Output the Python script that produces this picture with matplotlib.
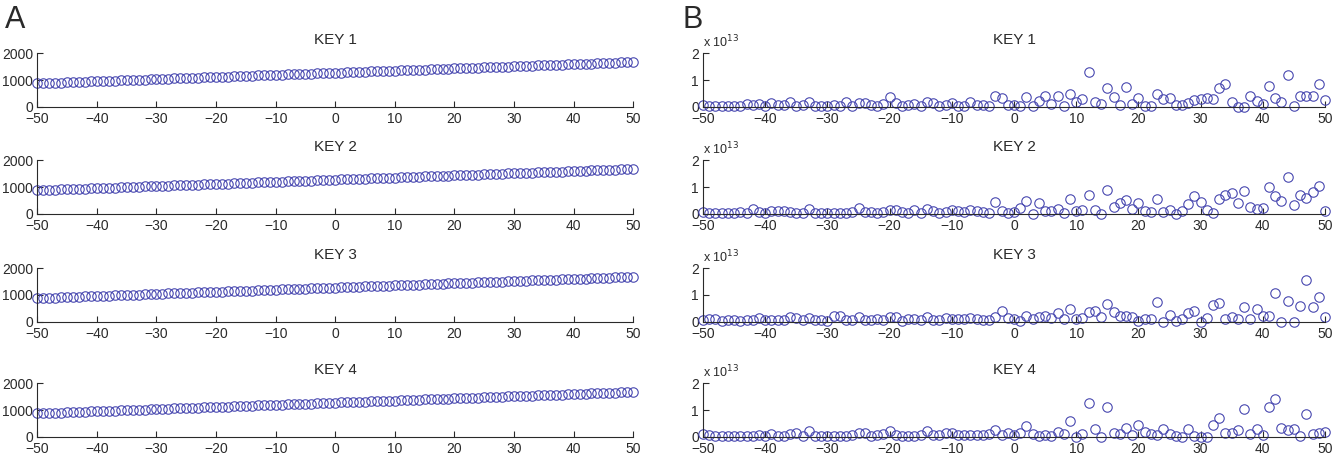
import numpy as np
import matplotlib.pyplot as plt
from matplotlib.ticker import FuncFormatter

plt.rcParams['font.family'] = ['Liberation Sans', 'DejaVu Sans']

# -----------------------------
# data
# -----------------------------
x_vals = list(range(-50, 51))
titles = ["KEY 1", "KEY 2", "KEY 3", "KEY 4"]

# left column (same trend in every panel)
trend_vals = [
    880, 888, 896, 904, 912, 920, 928, 936, 944, 952,
    960, 968, 976, 984, 992, 1000, 1008, 1016, 1024, 1032,
    1040, 1048, 1056, 1064, 1072, 1080, 1088, 1096, 1104, 1112,
    1120, 1128, 1136, 1144, 1152, 1160, 1168, 1176, 1184, 1192,
    1200, 1208, 1216, 1224, 1232, 1240, 1248, 1256, 1264, 1272,
    1280, 1288, 1296, 1304, 1312, 1320, 1328, 1336, 1344, 1352,
    1360, 1368, 1376, 1384, 1392, 1400, 1408, 1416, 1424, 1432,
    1440, 1448, 1456, 1464, 1472, 1480, 1488, 1496, 1504, 1512,
    1520, 1528, 1536, 1544, 1552, 1560, 1568, 1576, 1584, 1592,
    1600, 1608, 1616, 1624, 1632, 1640, 1648, 1656, 1664, 1672,
    1680,
]

# right column, in units of 1e13
key1_vals = [
    0.08, 0.04, 0.03, 0.03, 0.03, 0.04, 0.03, 0.10, 0.06, 0.12,
    0.05, 0.13, 0.07, 0.06, 0.20, 0.05, 0.06, 0.19, 0.04, 0.05,
    0.03, 0.08, 0.04, 0.17, 0.03, 0.14, 0.15, 0.06, 0.04, 0.10,
    0.37, 0.14, 0.03, 0.06, 0.12, 0.04, 0.18, 0.16, 0.04, 0.08,
    0.13, 0.05, 0.04, 0.17, 0.09, 0.08, 0.03, 0.42, 0.34, 0.06,
    0.07, 0.04, 0.37, 0.04, 0.22, 0.40, 0.12, 0.40, 0.05, 0.50,
    0.20, 0.29, 1.31, 0.20, 0.12, 0.70, 0.37, 0.07, 0.75, 0.10,
    0.35, 0.04, 0.04, 0.47, 0.29, 0.35, 0.07, 0.07, 0.16, 0.25,
    0.29, 0.32, 0.31, 0.70, 0.85, 0.20, 0.00, 0.00, 0.40, 0.22,
    0.12, 0.79, 0.32, 0.19, 1.21, 0.04, 0.40, 0.40, 0.40, 0.87,
    0.25,
]
key2_vals = [
    0.06, 0.04, 0.02, 0.02, 0.03, 0.03, 0.06, 0.02, 0.18, 0.08,
    0.03, 0.09, 0.10, 0.12, 0.06, 0.03, 0.04, 0.18, 0.02, 0.04,
    0.05, 0.04, 0.03, 0.04, 0.08, 0.23, 0.08, 0.06, 0.05, 0.08,
    0.15, 0.16, 0.06, 0.03, 0.15, 0.04, 0.19, 0.09, 0.05, 0.07,
    0.13, 0.09, 0.06, 0.14, 0.10, 0.06, 0.05, 0.44, 0.10, 0.04,
    0.06, 0.21, 0.47, 0.00, 0.40, 0.09, 0.12, 0.19, 0.04, 0.56,
    0.12, 0.16, 0.69, 0.15, 0.00, 0.91, 0.25, 0.40, 0.52, 0.19,
    0.41, 0.12, 0.06, 0.54, 0.06, 0.15, 0.00, 0.10, 0.37, 0.65,
    0.46, 0.15, 0.04, 0.56, 0.69, 0.79, 0.40, 0.84, 0.27, 0.19,
    0.21, 1.00, 0.66, 0.47, 1.37, 0.34, 0.69, 0.60, 0.81, 1.04,
    0.12,
]
key3_vals = [
    0.05, 0.12, 0.10, 0.04, 0.08, 0.05, 0.03, 0.05, 0.07, 0.15,
    0.07, 0.06, 0.07, 0.08, 0.19, 0.14, 0.05, 0.15, 0.06, 0.08,
    0.03, 0.21, 0.21, 0.06, 0.05, 0.17, 0.05, 0.06, 0.10, 0.07,
    0.17, 0.19, 0.04, 0.10, 0.10, 0.05, 0.19, 0.05, 0.08, 0.14,
    0.12, 0.10, 0.12, 0.14, 0.10, 0.06, 0.05, 0.18, 0.40, 0.15,
    0.10, 0.04, 0.21, 0.09, 0.19, 0.21, 0.15, 0.34, 0.12, 0.46,
    0.09, 0.15, 0.35, 0.40, 0.19, 0.65, 0.37, 0.22, 0.21, 0.19,
    0.04, 0.12, 0.12, 0.75, 0.00, 0.27, 0.04, 0.12, 0.31, 0.40,
    0.00, 0.15, 0.62, 0.71, 0.09, 0.19, 0.09, 0.54, 0.09, 0.46,
    0.22, 0.22, 1.09, 0.00, 0.79, 0.00, 0.59, 1.56, 0.54, 0.94,
    0.19,
]
key4_vals = [
    0.12, 0.06, 0.02, 0.02, 0.02, 0.03, 0.03, 0.04, 0.05, 0.07,
    0.04, 0.12, 0.05, 0.05, 0.12, 0.14, 0.05, 0.21, 0.04, 0.03,
    0.04, 0.04, 0.04, 0.05, 0.06, 0.15, 0.15, 0.04, 0.06, 0.12,
    0.22, 0.08, 0.04, 0.05, 0.05, 0.07, 0.21, 0.08, 0.06, 0.14,
    0.16, 0.08, 0.07, 0.06, 0.06, 0.08, 0.10, 0.25, 0.06, 0.16,
    0.06, 0.15, 0.40, 0.10, 0.04, 0.06, 0.02, 0.19, 0.12, 0.59,
    0.00, 0.10, 1.27, 0.29, 0.00, 1.11, 0.16, 0.12, 0.34, 0.06,
    0.44, 0.19, 0.12, 0.06, 0.29, 0.09, 0.02, 0.00, 0.29, 0.04,
    0.00, 0.00, 0.44, 0.72, 0.15, 0.16, 0.25, 1.06, 0.12, 0.29,
    0.06, 1.12, 1.40, 0.35, 0.25, 0.31, 0.04, 0.87, 0.10, 0.16,
    0.19,
]
right_series = [key1_vals, key2_vals, key3_vals, key4_vals]

# -----------------------------
# style helpers
# -----------------------------
MARKER_COLOR = '#4848b0'
AX_COLOR = '#2a2a2a'


def style_axes(ax):
    ax.spines['top'].set_visible(False)
    ax.spines['right'].set_visible(False)
    for s in ('left', 'bottom'):
        ax.spines[s].set_linewidth(0.8)
        ax.spines[s].set_color(AX_COLOR)
    ax.tick_params(direction='in', length=4.5, width=0.8, labelsize=10,
                   colors=AX_COLOR)
    ax.tick_params(axis='x', pad=4)
    ax.tick_params(axis='y', pad=3)
    ax.set_xlim(-50, 50)
    ax.set_xticks(range(-50, 51, 10))


fig = plt.figure(figsize=(13.33, 4.57), dpi=100)
bottoms = [0.766, 0.532, 0.296, 0.044]
height = 0.117

for i in range(4):
    # column A
    ax = fig.add_axes([0.028, bottoms[i], 0.447, height])
    ax.plot(x_vals, trend_vals, 'o', mfc='none', mec=MARKER_COLOR,
            ms=6.8, mew=0.8, clip_on=False)
    style_axes(ax)
    ax.set_ylim(0, 2000)
    ax.set_yticks([0, 1000, 2000])
    ax.set_title(titles[i], fontsize=11, pad=7, color=AX_COLOR)

    # column B (values stored in units of 1e13)
    ax = fig.add_axes([0.5274, bottoms[i], 0.4666, height])
    vals = np.array(right_series[i]) * 1e13
    ax.plot(x_vals, vals, 'o', mfc='none', mec=MARKER_COLOR,
            ms=6.8, mew=0.8, clip_on=False)
    style_axes(ax)
    ax.set_ylim(0, 2e13)
    ax.set_yticks([0, 1e13, 2e13])
    ax.yaxis.set_major_formatter(FuncFormatter(lambda v, p: f"{v / 1e13:g}"))
    ax.text(0.0, 1.06, r"x 10$^{13}$", transform=ax.transAxes,
            fontsize=9, ha='left', va='bottom', color=AX_COLOR)
    ax.set_title(titles[i], fontsize=11, pad=7, color=AX_COLOR)

fig.text(0.004, 0.99, "A", fontsize=22, va='top', ha='left', color=AX_COLOR)
fig.text(0.512, 0.99, "B", fontsize=22, va='top', ha='left', color=AX_COLOR)

fig.savefig("out.png", dpi=100)
